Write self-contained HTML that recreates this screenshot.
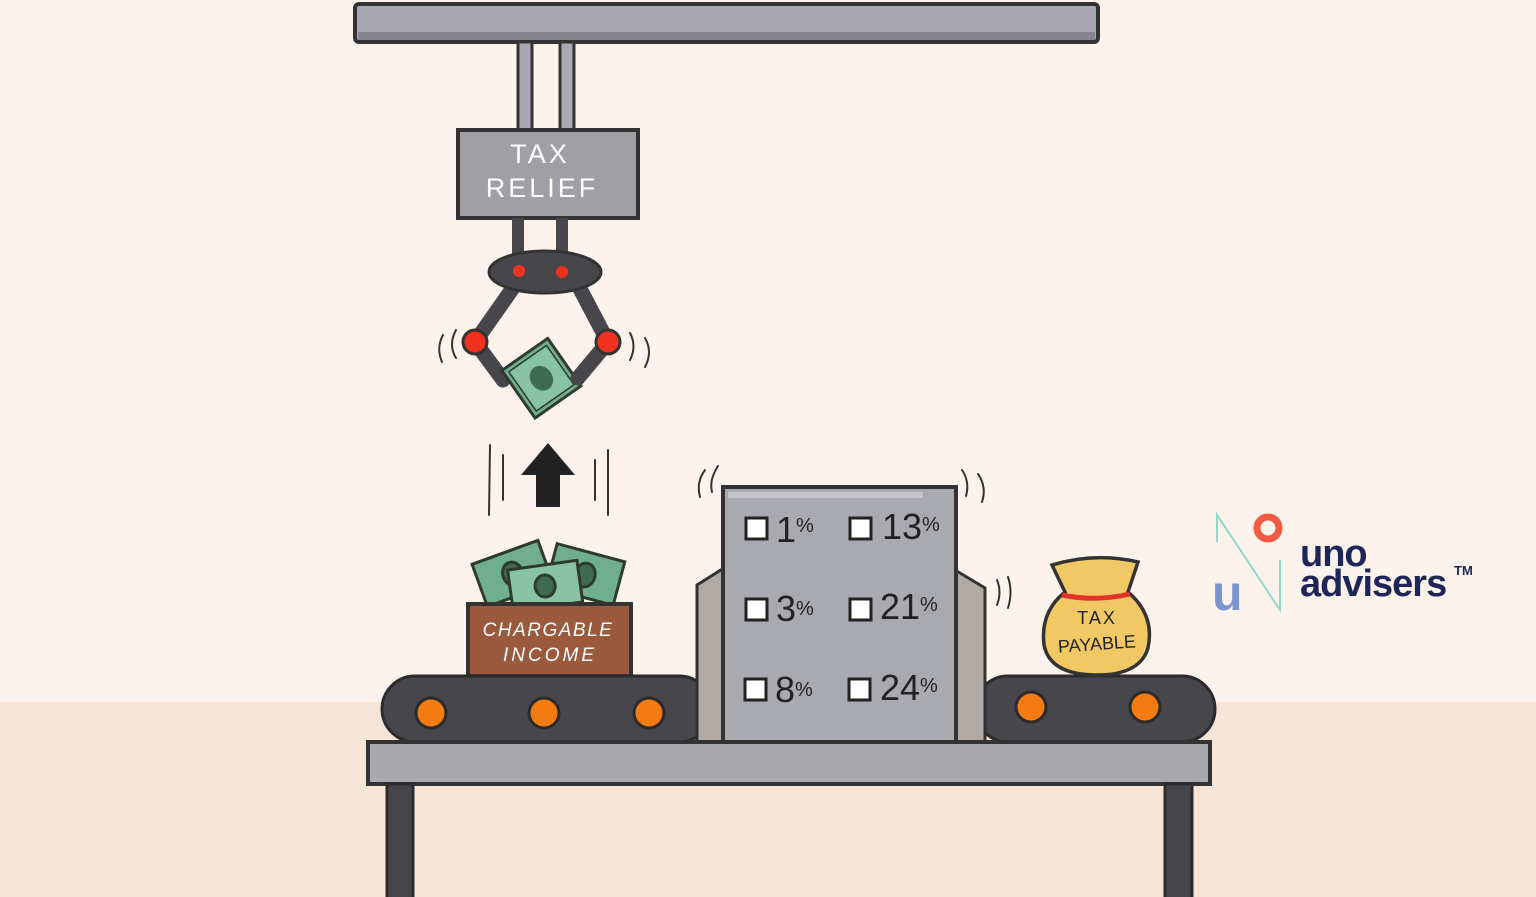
<!DOCTYPE html>
<html><head><meta charset="utf-8"><style>
html,body{margin:0;padding:0;width:1536px;height:897px;overflow:hidden;background:#fdf3ec}
svg{display:block}
text{font-family:"Liberation Sans",sans-serif}
</style></head><body>
<svg width="1536" height="897" viewBox="0 0 1536 897" xmlns="http://www.w3.org/2000/svg">
<rect width="1536" height="897" fill="#fdf3ec"/>
<rect y="702" width="1536" height="195" fill="#f6e4d7"/>
<rect x="355" y="4" width="743" height="38" rx="4" fill="#a9a8b0" stroke="#333" stroke-width="4"/>
<rect x="358" y="32" width="737" height="8" fill="#86858d"/>
<rect x="518" y="42" width="14" height="88" fill="#a9a8b0" stroke="#333" stroke-width="3"/>
<rect x="560" y="42" width="14" height="88" fill="#a9a8b0" stroke="#333" stroke-width="3"/>
<rect x="458" y="130" width="180" height="88" fill="#a09fa4" stroke="#333" stroke-width="4"/>
<text x="540" y="163" fill="#fff" font-size="27" text-anchor="middle" letter-spacing="3">TAX</text>
<text x="542" y="197" fill="#fff" font-size="27" text-anchor="middle" letter-spacing="3">RELIEF</text>
<rect x="512" y="218" width="12" height="40" fill="#47474b"/>
<rect x="556" y="218" width="12" height="40" fill="#47474b"/>
<line x1="515" y1="285" x2="475" y2="342" stroke="#47474b" stroke-width="15" stroke-linecap="round"/>
<line x1="578" y1="285" x2="608" y2="342" stroke="#47474b" stroke-width="15" stroke-linecap="round"/>
<line x1="475" y1="342" x2="503" y2="380" stroke="#47474b" stroke-width="15" stroke-linecap="round"/>
<ellipse cx="545" cy="272" rx="56" ry="21" fill="#47474b" stroke="#333" stroke-width="3"/>
<circle cx="519" cy="271" r="6" fill="#f0321f"/>
<circle cx="562" cy="272" r="6" fill="#f0321f"/>
<g transform="rotate(-35 540 378)">
<rect x="513" y="350" width="56" height="58" fill="#6fae8e" stroke="#2e3a30" stroke-width="3"/>
<rect x="518" y="355" width="46" height="48" fill="#88c3a6" stroke="#2e3a30" stroke-width="1.5"/>
<ellipse cx="541" cy="379" rx="11" ry="13" fill="#3f6a55"/>
</g>
<line x1="608" y1="342" x2="578" y2="378" stroke="#47474b" stroke-width="15" stroke-linecap="round"/>
<circle cx="475" cy="342" r="12" fill="#f0321f" stroke="#333" stroke-width="3"/>
<circle cx="608" cy="342" r="12" fill="#f0321f" stroke="#333" stroke-width="3"/>
<g fill="none" stroke="#333" stroke-width="2" stroke-linecap="round">
<path d="M443 335 Q436 348 442 362"/><path d="M456 330 Q448 345 456 358"/>
<path d="M630 333 Q637 346 630 360"/><path d="M645 338 Q653 352 645 367"/>
<line x1="490" y1="445" x2="489" y2="515"/><line x1="503" y1="455" x2="503" y2="500"/>
<line x1="595" y1="460" x2="595" y2="500"/><line x1="608" y1="450" x2="608" y2="515"/>
<path d="M705 470 Q696 482 700 497"/><path d="M718 466 Q709 480 712 492"/>
<path d="M962 470 Q970 482 966 496"/><path d="M978 474 Q987 487 982 502"/>
<path d="M997 580 Q1002 592 997 605"/><path d="M1008 577 Q1013 592 1008 608"/>
</g>
<polygon points="548,443 575,475 560,475 560,507 536,507 536,475 521,475" fill="#222"/>
<g stroke="#2e3a30" stroke-width="3">
<g transform="rotate(-20 510 575)"><rect x="478" y="552" width="70" height="45" fill="#6fae8e"/><ellipse cx="513" cy="575" rx="10" ry="12" fill="#3f6a55"/></g>
<g transform="rotate(15 585 575)"><rect x="550" y="552" width="70" height="45" fill="#6fae8e"/><ellipse cx="585" cy="575" rx="10" ry="12" fill="#3f6a55"/></g>
<g transform="rotate(-8 545 585)"><rect x="510" y="565" width="70" height="42" fill="#88c3a6"/><ellipse cx="545" cy="586" rx="10" ry="11" fill="#3f6a55"/></g>
</g>
<rect x="468" y="604" width="163" height="72" fill="#9b5a3e" stroke="#333" stroke-width="4"/>
<text x="548" y="636" fill="#fff" font-size="19" font-style="italic" text-anchor="middle" letter-spacing="1.5">CHARGABLE</text>
<text x="550" y="661" fill="#fff" font-size="19" font-style="italic" text-anchor="middle" letter-spacing="3">INCOME</text>
<rect x="382" y="676" width="330" height="66" rx="33" fill="#47474b" stroke="#2b2b2e" stroke-width="3"/>
<rect x="975" y="676" width="240" height="66" rx="33" fill="#47474b" stroke="#2b2b2e" stroke-width="3"/>
<g fill="#f37b10" stroke="#2b2b2e" stroke-width="3">
<circle cx="431" cy="713" r="15"/><circle cx="544" cy="713" r="15"/><circle cx="649" cy="713" r="15"/>
<circle cx="1031" cy="707" r="15"/><circle cx="1145" cy="707" r="15"/>
</g>
<polygon points="697,585 724,568 724,742 697,742" fill="#b0aaa6" stroke="#333" stroke-width="3"/>
<polygon points="955,570 985,588 985,742 955,742" fill="#b0aaa6" stroke="#333" stroke-width="3"/>
<rect x="723" y="487" width="233" height="255" fill="#a9a9b0" stroke="#333" stroke-width="4"/>
<rect x="728" y="492" width="195" height="6" fill="#c4c4ca"/>
<g fill="#fff" stroke="#222" stroke-width="3">
<rect x="746" y="518" width="21" height="21"/><rect x="850" y="518" width="21" height="21"/>
<rect x="746" y="599" width="21" height="21"/><rect x="850" y="599" width="21" height="21"/>
<rect x="745" y="679" width="21" height="21"/><rect x="849" y="679" width="21" height="21"/>
</g>
<g fill="#222" font-size="36">
<text x="776" y="542">1<tspan font-size="20" dy="-10">%</tspan></text>
<text x="882" y="539">13<tspan font-size="20" dy="-8">%</tspan></text>
<text x="776" y="621">3<tspan font-size="20" dy="-6">%</tspan></text>
<text x="880" y="619">21<tspan font-size="20" dy="-8">%</tspan></text>
<text x="775" y="702">8<tspan font-size="20" dy="-6">%</tspan></text>
<text x="880" y="700">24<tspan font-size="20" dy="-8">%</tspan></text>
</g>
<rect x="368" y="742" width="842" height="42" fill="#a9a8ad" stroke="#333" stroke-width="4"/>
<rect x="387" y="784" width="26" height="120" fill="#47474b" stroke="#2b2b2e" stroke-width="3"/>
<rect x="1165" y="784" width="27" height="120" fill="#47474b" stroke="#2b2b2e" stroke-width="3"/>
<path d="M1052 565 Q1095 552 1138 562 L1128 592 Q1155 615 1148 648 Q1140 675 1097 675 Q1050 675 1044 645 Q1040 612 1065 592 Z" fill="#f2c865" stroke="#333" stroke-width="3.5"/>
<path d="M1062 595 Q1095 602 1130 594" fill="none" stroke="#e2322a" stroke-width="5"/>
<text x="1097" y="624" fill="#222" font-size="18" text-anchor="middle" letter-spacing="2">TAX</text>
<text x="1097" y="650" fill="#222" font-size="18" text-anchor="middle" transform="rotate(-4 1097 645)">PAYABLE</text>
<polyline points="1217,542 1217,515 1280,610 1280,560" fill="none" stroke="#8fd8cc" stroke-width="2"/>
<circle cx="1268" cy="528" r="11" fill="none" stroke="#f05a43" stroke-width="7"/>
<text x="1212" y="610" fill="#7a95d0" font-size="50" font-weight="bold">u</text>
<text x="1300" y="566" fill="#1d2656" font-size="38" font-weight="bold" letter-spacing="-1">uno</text>
<text x="1300" y="596" fill="#1d2656" font-size="38" font-weight="bold" letter-spacing="-1">advisers</text>
<text x="1454" y="575" fill="#1d2656" font-size="13" font-weight="bold">TM</text>
</svg>
</body></html>
